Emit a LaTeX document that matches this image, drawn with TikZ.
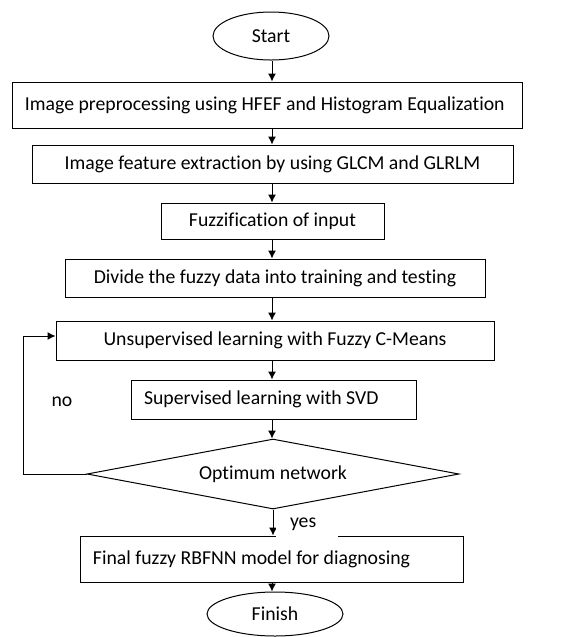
\documentclass[tikz,border=0pt]{standalone}
\usepackage{fontspec}
\setmainfont{Carlito}[Ligatures=NoCommon]
\usetikzlibrary{shapes.geometric,arrows.meta}

\begin{document}
\begin{tikzpicture}[>={Latex[length=6pt,width=6pt]}, x=0.75pt, y=-0.75pt, line width=0.75pt,
    font=\fontsize{14.8}{17}\selectfont,
    stage/.style={draw, inner sep=0pt, align=center},
    stageleft/.style={draw, inner xsep=9.75pt, inner ysep=0pt, align=flush left},
    terminal/.style={draw, ellipse, inner sep=0pt},
    decision/.style={draw, diamond, aspect=5.3, inner sep=0pt}]
    % Define size of one pixel
    \def\u{0.75pt}

    % Fix the page
    \useasboundingbox (0,0) rectangle (570,637);

    % Draw start
    \node[terminal, minimum width=116*\u, minimum height=48*\u] (start) at (271,36) {Start};

    % Draw the stages
    \node[stageleft, text width=484*\u, minimum height=46*\u] (prep) at (267,105)
        {Image preprocessing using HFEF and Histogram Equalization};
    \node[stage, minimum width=481*\u, minimum height=38*\u] (feat) at (272.5,164)
        {Image feature extraction by using GLCM and GLRLM};
    \node[stage, minimum width=223*\u, minimum height=36*\u] (fuzz) at (272.5,221)
        {Fuzzification of input};
    \node[stage, minimum width=420*\u, minimum height=38*\u] (split) at (275,278)
        {Divide the fuzzy data into training and testing};
    \node[stage, minimum width=438*\u, minimum height=39*\u] (learn) at (275,340.5)
        {Unsupervised learning with Fuzzy C-Means};
    \node[stageleft, text width=259*\u, minimum height=39*\u] (svd) at (273.5,399.5)
        {Supervised learning with SVD};

    % Draw decision
    \node[decision, minimum width=372*\u, minimum height=70*\u] (check) at (273,474)
        {Optimum network};

    % Draw final model and finish
    \node[stageleft, text width=357*\u, minimum height=46*\u] (final) at (271.5,559)
        {Final fuzzy RBFNN model for diagnosing};
    \node[terminal, minimum width=136*\u, minimum height=44*\u] (finish) at (275,614) {Finish};

    % Draw main flow
    \coordinate (spine) at (272,0);
    \foreach \a/\b in {start/prep, prep/feat, feat/fuzz, fuzz/split, split/learn,
                       learn/svd, svd/check, final/finish}
        \draw[->] (spine |- \a.south) -- (spine |- \b.north);
    \draw[->] (check.south) -- (check.south |- final.north);

    % Draw loop back
    \coordinate (loop) at (23,336);
    \draw[->] (check.west) -| (loop) -- (loop -| learn.west);

    % Draw labels
    \node (no) at (62,402) {no};
    \node[fill=white, inner xsep=14*\u, inner ysep=0pt, text width=34*\u,
          minimum height=26*\u, align=flush left] (yes) at (307,524) {yes};

\end{tikzpicture}
\end{document}
